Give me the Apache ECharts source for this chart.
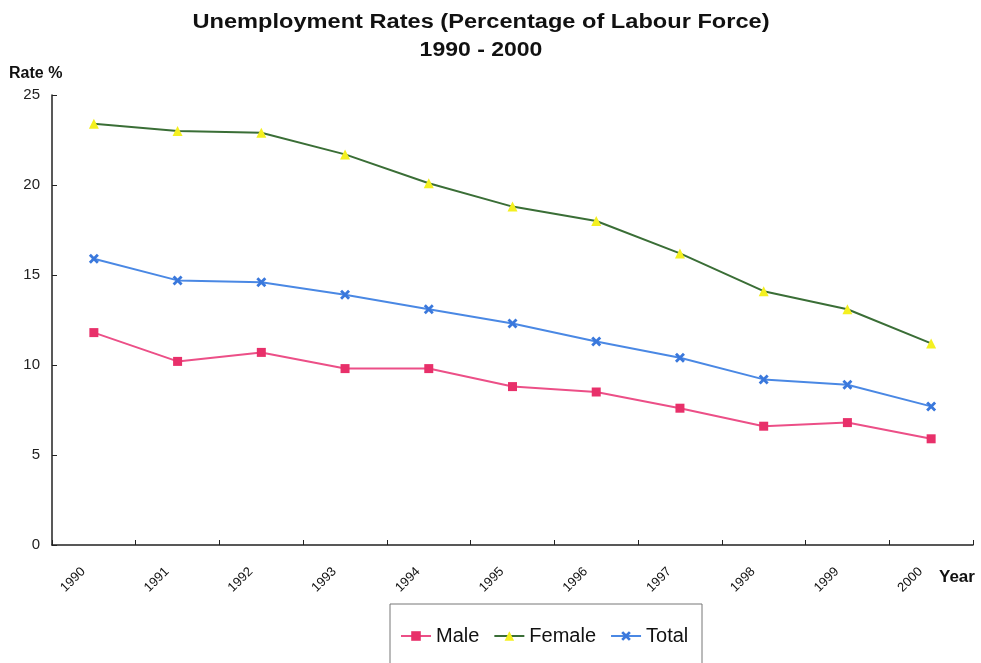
<!DOCTYPE html>
<html>
<head>
<meta charset="utf-8">
<script src="https://cdn.jsdelivr.net/npm/echarts@6/dist/echarts.min.js"></script>
<style>
html,body{margin:0;padding:0;background:#fff;}
#chart{width:981px;height:663px;}
</style>
</head>
<body>
<div id="chart"></div>
<script>
// Unemployment rates, % of labour force
const years = ['1990','1991','1992','1993','1994','1995','1996','1997','1998','1999','2000'];
const male = [11.8, 10.2, 10.7, 9.8, 9.8, 8.8, 8.5, 7.6, 6.6, 6.8, 5.9];
const female = [23.4, 23.0, 22.9, 21.7, 20.1, 18.8, 18.0, 16.2, 14.1, 13.1, 11.2];
const total = [15.9, 14.7, 14.6, 13.9, 13.1, 12.3, 11.3, 10.4, 9.2, 8.9, 7.7];
const yTicks = [0, 5, 10, 15, 20, 25];

const titleLines = ['Unemployment Rates (Percentage of Labour Force)', '1990 - 2000'];
const FONT = '"Liberation Sans", Arial, sans-serif';
const crossPath = 'path://M2,0 L5,3 L8,0 L10,2 L7,5 L10,8 L8,10 L5,7 L2,10 L0,8 L3,5 L0,2 Z';

function boldText(text, x, y, size, align, scaleX) {
  return {
    type: 'text', x: x, y: y, scaleX: scaleX || 1, silent: true,
    style: {text: text, fill: '#111', font: 'bold ' + size + 'px ' + FONT,
            align: align, verticalAlign: 'middle'}
  };
}

const chart = echarts.init(document.getElementById('chart'), null, {renderer: 'canvas'});
chart.setOption({
  backgroundColor: '#fff',
  animation: false,
  grid: {left: 52, right: 8, top: 95, bottom: 118, containLabel: false},
  legend: {
    top: 621,
    left: 395,
    itemWidth: 30,
    itemHeight: 12,
    itemGap: 14,
    textStyle: {fontFamily: FONT, fontSize: 20, color: '#111'},
    data: ['Male', 'Female', 'Total']
  },
  graphic: [
    boldText(titleLines[0], 481, 22, 20, 'center', 1.18),
    boldText(titleLines[1], 481, 50, 20, 'center', 1.15),
    boldText('Rate %', 9, 74, 16, 'left'),
    boldText('Year', 939, 577, 17, 'left'),
    {
      type: 'rect',
      shape: {x: 390, y: 604, width: 312, height: 80},
      style: {fill: 'none', stroke: '#777', lineWidth: 1},
      silent: true
    }
  ],
  xAxis: {
    type: 'category',
    data: years,
    boundaryGap: true,
    axisLine: {lineStyle: {color: '#222', width: 1.5}},
    axisTick: {show: true, inside: true, length: 5, alignWithLabel: false, lineStyle: {color: '#222'}},
    axisLabel: {rotate: 45, fontFamily: FONT, fontSize: 13, color: '#111', margin: 14, padding: [0, 15, 0, 0]}
  },
  yAxis: {
    type: 'value',
    min: 0,
    max: yTicks[yTicks.length - 1],
    interval: 5,
    axisLine: {show: true, lineStyle: {color: '#222', width: 1.5}},
    axisTick: {show: true, inside: true, length: 5, lineStyle: {color: '#222'}},
    axisLabel: {fontFamily: FONT, fontSize: 15, color: '#222', margin: 12},
    splitLine: {show: false}
  },
  series: [
    {
      name: 'Male', type: 'line', data: male,
      symbol: 'rect', symbolSize: 9,
      lineStyle: {color: '#ec4f87', width: 2},
      itemStyle: {color: '#e8306a'}
    },
    {
      name: 'Female', type: 'line', data: female,
      symbol: 'triangle', symbolSize: 10,
      lineStyle: {color: '#3a6e36', width: 2},
      itemStyle: {color: '#f4f020'}
    },
    {
      name: 'Total', type: 'line', data: total,
      symbol: crossPath, symbolSize: 10,
      lineStyle: {color: '#4a88e4', width: 2},
      itemStyle: {color: '#3a78dc'}
    }
  ]
});
</script>
</body>
</html>
